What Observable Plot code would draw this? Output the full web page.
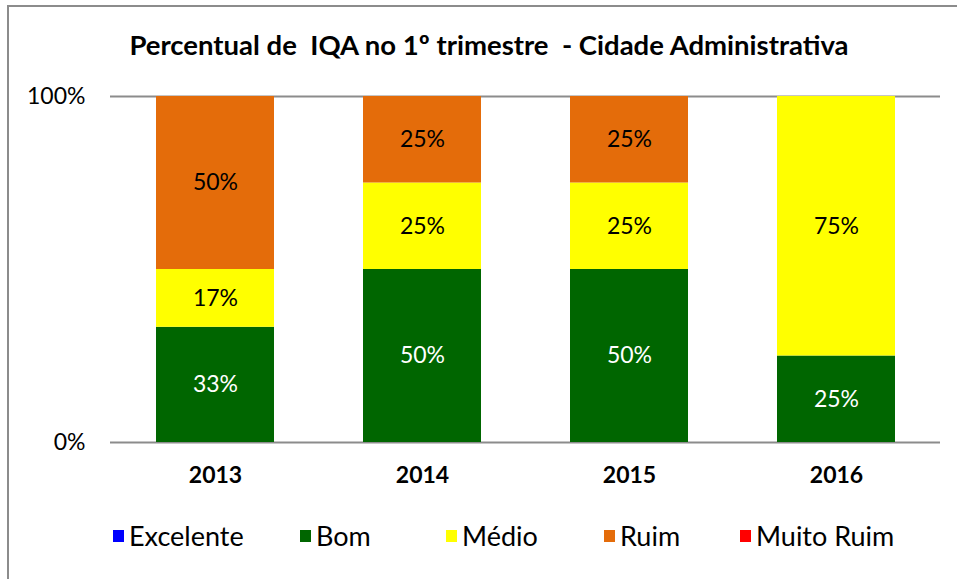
<!DOCTYPE html>
<html>
<head>
<meta charset="utf-8">
<script src="https://cdn.jsdelivr.net/npm/d3@7"></script>
<script src="https://cdn.jsdelivr.net/npm/@observablehq/plot@0.6"></script>
<style>
  html, body { margin: 0; padding: 0; background: #fff; }
  body { width: 957px; height: 579px; position: relative; overflow: hidden; font-family: Lato, "Open Sans", sans-serif; }
  #frame { position: absolute; left: 7px; top: 5px; width: 1000px; height: 1000px; border-left: 2px solid #8c8c8c; border-top: 2px solid #8c8c8c; pointer-events: none; }
  #title { height: 70px; box-sizing: border-box; padding-top: 29px; padding-left: 21px; text-align: center; font-weight: bold; font-size: 27.5px; color: #000; line-height: 32px; white-space: pre; }
  #legend { height: 79px; position: relative; }
  #legend .item { position: absolute; top: 19px; display: flex; align-items: center; font-size: 27px; color: #000; white-space: pre; }
  #legend .sw { width: 11px; height: 12px; margin-right: 5px; }
</style>
</head>
<body>
<div id="frame"></div>
<div id="title">Percentual de  IQA no 1º trimestre  - Cidade Administrativa</div>
<div id="chart"></div>
<div id="legend"></div>
<script>
const years = ["2013", "2014", "2015", "2016"];
const categories = ["Excelente", "Bom", "Médio", "Ruim", "Muito Ruim"];
const colors = ["#0000ff", "#006600", "#ffff00", "#e46c0a", "#ff0000"];
const excelente = [0, 0, 0, 0];
const bom = [0.333, 0.5, 0.5, 0.25];
const medio = [0.167, 0.25, 0.25, 0.75];
const ruim = [0.5, 0.25, 0.25, 0];
const muitoRuim = [0, 0, 0, 0];
const yTicks = [0, 1];
const legendLeft = [113, 300, 446, 604, 740];

const series = [excelente, bom, medio, ruim, muitoRuim];
const data = [];
categories.forEach((c, i) => years.forEach((y, j) => data.push({year: y, cat: c, value: series[i][j]})));
const labeled = data.filter(d => d.value > 0);

const plot = Plot.plot({
  width: 957,
  height: 430,
  marginLeft: 110,
  marginRight: 17,
  marginTop: 26,
  marginBottom: 58,
  style: {fontFamily: "Lato, 'Open Sans', sans-serif", background: "#fff", overflow: "visible"},
  x: {domain: years, paddingInner: 0.43, paddingOuter: 0.215, label: null},
  y: {domain: [0, 1], label: null},
  color: {domain: categories, range: colors},
  marks: [
    Plot.ruleY(yTicks, {stroke: "#8c8c8c", strokeWidth: 2}),
    Plot.barY(data, Plot.stackY({x: "year", y: "value", z: "cat", fill: "cat", order: categories})),
    Plot.text(labeled, Plot.stackY({x: "year", y: "value", z: "cat", order: categories,
      text: d => Math.round(d.value * 100) + "%",
      fill: d => d.cat === "Bom" ? "#ffffff" : "#000000", fontSize: 23})),
    Plot.axisY(yTicks, {tickFormat: d => Math.round(d * 100) + "%", tickSize: 0, tickPadding: 25, fontSize: 23, fill: "#000"}),
    Plot.axisX({tickSize: 0, tickPadding: 24, fontSize: 23, fontWeight: "bold", fill: "#000", label: null})
  ]
});
document.getElementById("chart").appendChild(plot);

const leg = document.getElementById("legend");
categories.forEach((c, i) => {
  const it = document.createElement("div");
  it.className = "item";
  it.style.left = legendLeft[i] + "px";
  const sw = document.createElement("span");
  sw.className = "sw";
  sw.style.background = colors[i];
  const t = document.createElement("span");
  t.textContent = c;
  it.appendChild(sw);
  it.appendChild(t);
  leg.appendChild(it);
});
</script>
</body>
</html>
